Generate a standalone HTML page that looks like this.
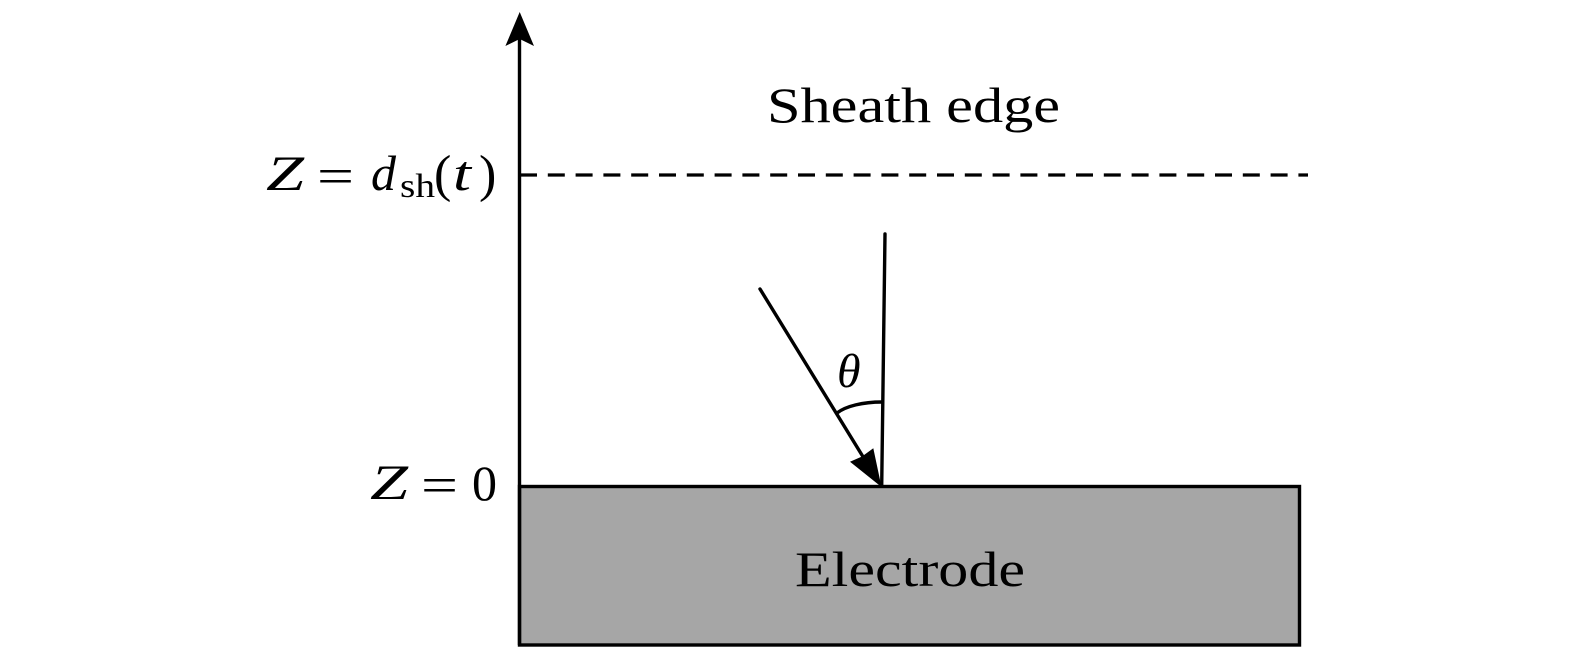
<!DOCTYPE html>
<html>
<head>
<meta charset="utf-8">
<style>
html,body{margin:0;padding:0;background:#fff;width:1575px;height:659px;overflow:hidden}
svg{display:block}
text{font-family:"Liberation Serif",serif;fill:#000}
.i{font-style:italic}
</style>
</head>
<body>
<svg width="1575" height="659" viewBox="0 0 1575 659" xmlns="http://www.w3.org/2000/svg">
<rect x="519.5" y="486.5" width="780" height="158.5" fill="#a6a6a6" stroke="#000" stroke-width="3.4"/>
<line x1="519.5" y1="645" x2="519.5" y2="36" stroke="#000" stroke-width="3.4"/>
<polygon points="519.7,12 534,46 519.7,39 505.4,46" fill="#000"/>
<line x1="520" y1="175" x2="1308" y2="175" stroke="#000" stroke-width="3.2" stroke-dasharray="17 10.8"/>
<line x1="885" y1="234" x2="881.7" y2="486" stroke="#000" stroke-width="3.4" stroke-linecap="round"/>
<line x1="760" y1="289" x2="865" y2="460" stroke="#000" stroke-width="3.4" stroke-linecap="round"/>
<polygon points="881.5,487 850,461.7 862,456.5 873.3,448.3" fill="#000"/>
<path d="M837 413 C 846 406, 863 402, 882 402" fill="none" stroke="#000" stroke-width="3.4"/>
<text x="767" y="122" font-size="50" textLength="293" lengthAdjust="spacingAndGlyphs">Sheath edge</text>
<text x="795" y="586" font-size="50" textLength="230" lengthAdjust="spacingAndGlyphs">Electrode</text>
<text class="i" x="266" y="190" font-size="50" textLength="38" lengthAdjust="spacingAndGlyphs">Z</text>
<text x="317" y="193" font-size="50" textLength="37" lengthAdjust="spacingAndGlyphs">=</text>
<text class="i" x="371" y="190" font-size="50">d</text>
<text x="400" y="197" font-size="34" textLength="35" lengthAdjust="spacingAndGlyphs">sh</text>
<text x="434" y="191" font-size="52">(</text>
<text class="i" x="453" y="190" font-size="50" textLength="18" lengthAdjust="spacingAndGlyphs">t</text>
<text x="479" y="191" font-size="52">)</text>
<text class="i" x="370" y="499" font-size="50" textLength="38" lengthAdjust="spacingAndGlyphs">Z</text>
<text x="421" y="502" font-size="50" textLength="37" lengthAdjust="spacingAndGlyphs">=</text>
<text x="472" y="500" font-size="50">0</text>
<text class="i" x="837" y="387" font-size="48">θ</text>
</svg>
</body>
</html>
